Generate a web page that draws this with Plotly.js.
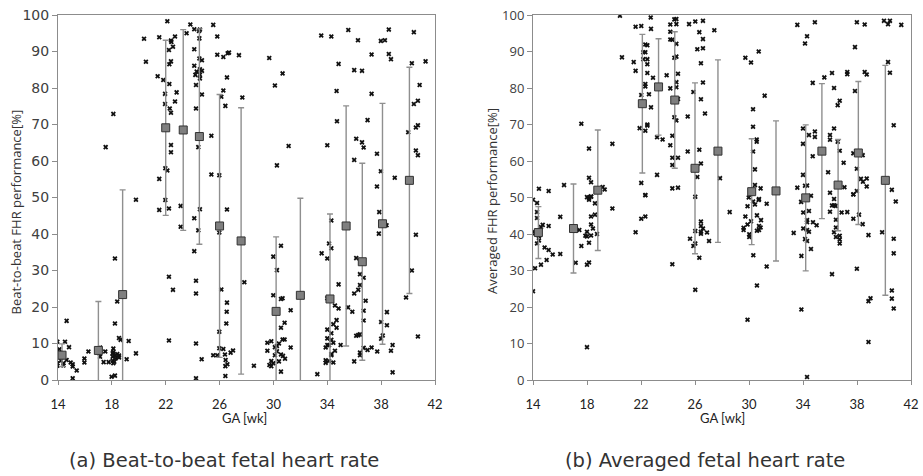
<!DOCTYPE html>
<html>
<head>
<meta charset="utf-8">
<script src="https://cdn.plot.ly/plotly-3.0.1.min.js"></script>
<style>html,body{margin:0;padding:0;background:#fff;}#chart{width:923px;height:476px;}</style>
</head>
<body>
<div id="chart"></div>
<script>
// ---- Panel (a): beat-to-beat FHR, individual measurements ----
const aX = [17.54,18.11,20.39,20.53,21.4,21.52,21.82,21.95,21.95,22.12,22.24,22.27,22.39,22.39,22.42,22.54,22.69,22.27,22.3,22.39,22.81,22.69,22.39,22.39,21.52,21.97,22.12,23.55,23.83,24.12,24.47,24.54,24.12,24.5,24.12,24.3,24.54,24.69,24.2,24.54,24.54,24.5,24.69,24.25,24.69,24.25,24.42,25.39,25.39,25.98,25.53,25.83,25.83,26.28,26.6,26.7,26.55,26.28,26.13,26.43,19.79,
13.95,14.1,13.95,13.95,14.22,14.4,14.4,14.52,14.64,14.82,14.64,14.94,15.09,15.09,15.39,15.09,15.96,15.96,16.26,17.12,17.12,17.39,17.51,17.76,17.98,18.06,18.06,18.06,18.11,18.11,18.23,18.11,18.18,18.23,18.23,18.23,18.28,18.4,18.4,18.53,18.53,18.53,18.65,19.1,19.25,19.79,21.52,21.97,22.24,22.24,22.24,22.54,23.11,23.11,24.12,24.12,24.25,24.25,24.25,24.25,24.54,24.42,24.67,25.53,25.83,25.98,25.98,25.98,26.13,26.28,26.4,26.45,26.53,26.5,26.55,26.43,26.58,26.43,26.55,
27.44,27.69,29.69,30.11,30.68,31.13,30.26,33.55,34.3,35.56,36.28,34.84,34.69,34.72,34.0,36.0,36.58,37.29,37.98,38.28,38.57,38.57,38.73,37.29,36.99,36.15,36.58,36.7,36.0,37.69,37.98,37.69,39.01,40.43,40.28,41.3,40.86,40.73,40.43,40.73,40.58,40.01,40.58,40.73,
27.0,26.82,27.84,28.55,29.99,30.26,29.99,30.56,30.56,30.68,31.28,30.83,30.56,30.68,30.83,29.55,29.84,30.41,30.26,30.11,29.55,30.26,30.11,30.56,30.71,30.86,31.28,29.84,30.41,29.99,29.7,29.84,30.56,33.26,33.58,34.0,34.13,34.3,34.3,34.84,34.0,34.57,34.84,34.0,34.3,34.69,34.69,34.45,34.0,34.3,34.0,34.13,33.88,34.45,34.57,34.99,34.3,34.3,33.88,33.88,34.13,34.45,35.54,35.86,36.0,36.15,36.43,36.7,36.43,36.3,36.0,36.85,36.7,36.7,36.15,36.3,36.43,36.7,36.43,36.43,36.99,37.29,37.71,37.86,37.83,38.4,38.43,38.43,38.0,38.0,38.12,38.85,38.73,38.85,39.85,40.28,40.58,40.73];
const aY = [63.8,72.9,93.5,87.2,83.2,93.9,82.2,78.4,75.6,98.3,90.4,86.5,87.3,93.0,92.6,91.3,94.1,81.1,74.4,73.2,78.8,76.3,64.4,62.4,55.1,58.0,57.4,95.0,97.4,96.1,95.6,96.0,90.6,93.6,86.1,84.5,85.1,84.7,83.6,83.6,82.6,88.1,87.6,80.8,78.2,74.4,63.8,66.9,56.3,56.1,97.3,94.1,89.1,88.5,89.5,89.7,82.9,79.3,77.6,75.1,49.4,
10.5,8.4,4.6,3.9,5.3,4.6,4.0,10.5,16.2,9.0,5.5,4.8,4.3,3.7,2.6,0.5,5.9,4.8,7.8,8.9,6.4,4.9,7.8,4.9,0.9,7.3,6.4,5.3,8.6,7.7,6.7,4.6,5.0,33.3,15.5,1.2,5.9,21.5,7.1,11.5,6.7,6.2,11.0,5.7,10.7,7.3,46.6,49.3,47.0,28.3,10.8,24.7,47.7,42.0,44.3,35.3,27.2,23.7,10.0,0.5,46.8,41.0,5.7,6.8,6.8,40.4,13.2,8.7,24.8,8.5,7.0,5.5,18.7,15.5,21.2,3.8,4.3,1.1,46.7,
89.0,77.4,88.2,80.7,84.0,64.1,58.8,94.4,94.1,95.9,93.1,86.6,79.2,70.9,64.3,84.9,84.7,89.2,92.9,93.1,96.0,89.3,87.9,78.4,71.2,66.1,65.1,63.7,60.3,62.0,57.2,53.0,55.4,95.3,86.8,87.3,80.8,76.5,75.6,69.8,69.2,67.9,62.9,61.6,
8.1,7.5,26.8,3.9,33.8,30.1,23.2,36.8,22.2,22.4,19.1,15.7,14.3,11.1,11.1,10.2,10.6,10.0,9.3,9.0,8.0,7.9,6.8,7.0,6.6,5.8,8.9,5.2,5.1,4.6,4.1,3.8,2.3,1.6,34.7,33.3,37.4,36.1,43.7,26.2,22.4,20.4,19.6,13.8,12.8,16.4,14.3,15.3,11.4,11.0,9.6,9.5,8.9,10.2,8.0,9.6,7.1,6.8,5.4,4.7,5.2,4.8,19.9,18.7,5.1,33.4,29.0,28.0,26.0,24.7,23.7,21.7,19.0,16.3,12.1,12.3,12.5,8.8,7.5,6.8,8.2,8.9,7.8,46.0,40.1,42.4,18.6,15.0,15.9,11.3,12.2,9.6,8.0,2.1,22.6,30.0,39.8,11.9];
// panel (a) group means and spread
const aMeanX = [14.3,17.0,18.8,22.0,23.3,24.5,26.0,27.6,30.2,32.0,34.2,35.4,36.6,38.1,40.1];
const aMeanY = [6.8,8.1,23.4,69.1,68.5,66.7,42.2,38.1,18.8,23.2,22.2,42.2,32.4,42.8,54.7];
const aErr   = [3.1,13.4,28.7,24.0,27.5,29.5,36.0,36.5,20.4,26.6,23.3,32.9,27.0,33.0,31.0];

// ---- Panel (b): averaged FHR, individual measurements ----
const bX = [14.44,15.16,16.3,17.58,18.15,18.15,18.3,18.0,18.3,19.16,19.31,19.88,20.44,20.59,21.46,21.6,21.6,22.02,22.72,22.74,22.32,22.47,22.17,22.32,22.17,22.47,22.47,22.47,22.32,22.32,22.02,22.59,22.89,22.74,22.47,22.47,21.9,22.32,22.02,22.32,23.19,23.19,23.6,23.9,24.17,24.17,24.17,24.32,24.47,24.62,24.62,24.62,24.47,24.62,24.74,24.17,24.62,24.62,24.74,24.32,24.17,24.47,24.62,24.32,24.74,24.32,24.32,24.74,25.46,25.46,25.56,
14.0,14.3,14.3,14.3,14.0,14.15,14.3,14.44,14.44,14.59,14.72,14.44,15.16,14.15,14.59,14.0,14.86,15.16,15.46,15.01,16.02,16.02,17.16,17.16,17.43,17.58,18.0,18.0,17.88,18.15,18.0,18.15,18.3,18.3,18.44,18.59,18.3,18.59,18.15,18.15,18.3,18.74,18.0,19.88,21.6,22.02,22.32,22.32,24.32,25.63,
26.02,26.59,26.32,26.59,26.17,26.59,27.43,26.44,26.59,25.88,26.44,26.74,26.32,26.44,26.17,27.85,26.02,29.73,30.15,30.72,31.16,30.3,30.3,30.57,30.57,30.3,30.44,30.44,30.86,33.58,34.88,34.3,34.15,34.72,35.58,36.15,37.28,37.28,38.57,38.72,37.99,38.57,40.0,40.3,40.44,41.28,37.85,40.3,40.44,36.3,36.72,36.57,37.85,40.72,34.0,34.44,34.88,34.88,36.3,36.0,36.0,36.57,34.0,34.72,36.72,37.01,35.86,37.73,38.42,37.99,38.29,38.44,38.72,38.72,34.0,34.15,34.3,33.58,34.59,37.07,36.3,36.0,37.99,37.73,40.58,29.98,30.74,
26.02,25.88,26.02,26.02,26.32,26.44,26.44,26.59,26.44,26.44,26.89,27.04,28.57,30.3,30.44,30.72,31.31,29.89,29.73,30.59,30.89,30.15,29.89,30.74,30.86,29.6,29.6,30.74,30.59,30.02,30.02,30.32,31.31,30.59,29.89,33.86,34.02,34.44,34.3,34.3,34.74,35.01,34.02,34.3,34.44,33.31,34.15,34.3,34.59,33.88,33.88,34.3,36.15,36.3,36.42,36.0,36.86,37.28,36.44,36.44,36.3,36.44,36.72,36.72,36.72,36.15,37.73,37.73,38.15,38.42,37.99,38.85,39.86,40.72,40.72,40.87,38.85,39.0,40.58,40.58,40.72,38.85];
const bY = [52.4,51.8,53.4,70.2,63.4,55.4,54.2,50.1,50.2,52.9,52.2,64.7,99.8,88.4,87.1,84.7,96.8,97.0,99.3,96.2,91.9,91.7,89.8,89.8,87.9,87.9,86.5,84.1,81.1,80.4,78.1,78.3,82.8,74.7,70.0,69.7,69.0,68.3,54.0,50.7,56.2,66.5,65.9,83.5,97.4,95.4,93.3,93.2,98.8,98.9,97.5,92.1,88.3,88.6,83.9,79.9,81.6,80.2,77.0,66.9,64.3,72.0,71.1,60.9,60.9,58.9,52.5,52.7,72.2,62.6,97.5,
49.4,48.5,46.0,44.4,40.6,40.2,37.4,38.2,39.3,41.9,42.5,40.6,42.2,30.6,31.6,24.3,36.3,35.6,34.4,32.9,34.5,44.7,32.1,40.9,41.1,36.7,40.6,39.3,39.5,37.6,31.6,32.2,39.6,42.6,41.5,45.3,44.8,48.4,49.9,49.4,50.3,40.0,9.0,47.0,40.5,44.2,44.8,50.6,31.7,38.7,
98.2,98.4,95.3,93.4,90.6,90.9,95.8,86.8,81.5,78.9,76.9,73.0,63.1,59.3,55.6,55.3,50.2,88.3,87.0,90.0,77.9,74.2,69.4,65.9,65.3,62.6,57.7,53.4,52.5,97.3,98.0,94.2,92.2,81.4,82.9,84.1,84.4,83.8,84.4,83.7,98.0,97.4,98.4,97.5,98.4,97.3,91.2,87.1,84.2,80.0,76.5,75.3,79.2,69.8,68.9,67.1,68.1,66.6,68.9,67.1,65.8,65.3,64.7,61.3,62.8,59.5,56.9,62.1,61.6,57.9,55.1,54.3,55.2,53.0,56.2,53.2,53.3,52.7,50.5,52.8,49.6,51.3,51.8,50.9,52.1,50.0,49.6,
40.8,36.7,37.4,24.7,33.5,43.4,42.2,41.5,40.6,40.1,40.4,38.1,46.0,48.9,48.1,49.3,48.3,47.6,44.8,45.1,43.8,43.5,42.6,42.2,41.8,41.7,41.1,41.1,40.9,39.9,39.2,34.2,31.1,25.9,16.5,48.8,45.9,46.3,43.8,43.2,43.2,42.4,41.5,41.1,40.6,40.3,38.6,38.1,35.9,34.0,19.3,0.8,47.8,47.9,47.7,46.1,45.9,46.0,43.9,41.8,40.5,39.2,39.5,38.5,37.4,29.0,50.8,44.2,45.3,42.7,30.5,39.7,40.5,38.7,34.7,48.9,21.6,22.4,24.5,22.3,19.6,10.4];
// panel (b) group means and spread
const bMeanX = [14.4,17.0,18.8,22.1,23.3,24.5,26.0,27.7,30.2,32.0,34.2,35.4,36.6,38.1,40.1];
const bMeanY = [40.4,41.5,52.0,75.7,80.3,76.7,58.0,62.7,51.6,51.8,49.9,62.7,53.4,62.2,54.7];
const bErr   = [7.1,12.2,16.5,19.0,13.2,18.7,23.4,25.0,14.5,19.2,20.0,18.5,12.5,19.6,31.5];

const xTicks = [14,18,22,26,30,34,38,42];
const xTitle = 'GA [wk]';
const aYTitle = 'Beat-to-beat FHR performance[%]';
const bYTitle = 'Averaged FHR performance[%]';
const aCaption = '(a) Beat-to-beat fetal heart rate';
const bCaption = '(b) Averaged fetal heart rate';

const ptMarker = {symbol:'x', size:4.5, color:'#111'};
const meanMarker = {symbol:'square', size:8, color:'#7f7f7f', line:{color:'#333', width:1}};
const errStyle = (arr) => ({type:'data', array:arr, visible:true, color:'#8f8f8f', thickness:1.4, width:3});

const traces = [
  {x:aX, y:aY, type:'scatter', mode:'markers', marker:ptMarker, xaxis:'x', yaxis:'y', hoverinfo:'x+y'},
  {x:aMeanX, y:aMeanY, type:'scatter', mode:'markers', marker:meanMarker, error_y:errStyle(aErr), xaxis:'x', yaxis:'y'},
  {x:bX, y:bY, type:'scatter', mode:'markers', marker:ptMarker, xaxis:'x2', yaxis:'y2', hoverinfo:'x+y'},
  {x:bMeanX, y:bMeanY, type:'scatter', mode:'markers', marker:meanMarker, error_y:errStyle(bErr), xaxis:'x2', yaxis:'y2'}
];

const W = 923, H = 476;
const px = v => v / W, py = v => (H - v) / H;

const xBase = {
  range:[14,42], tickmode:'array', tickvals:xTicks, ticktext:xTicks.map(String),
  ticks:'outside', ticklen:4, tickwidth:1, tickcolor:'#8c8c8c',
  showline:true, linecolor:'#8c8c8c', linewidth:1, mirror:true,
  showgrid:false, zeroline:false, fixedrange:true,
  tickfont:{family:'Lato, sans-serif', size:13, color:'#222'}, ticklabelstandoff:8
};
const yBase = {
  range:[0,100], tickmode:'linear', tick0:0, dtick:10,
  ticks:'outside', ticklen:5, tickwidth:1, tickcolor:'#8c8c8c',
  showline:true, linecolor:'#8c8c8c', linewidth:1, mirror:true,
  showgrid:false, zeroline:false, fixedrange:true
};

const layout = {
  width:W, height:H, margin:{l:0, r:0, t:0, b:0},
  paper_bgcolor:'#fff', plot_bgcolor:'#fff', showlegend:false,
  xaxis: Object.assign({}, xBase, {domain:[px(58), px(435)], anchor:'y'}),
  yaxis: Object.assign({}, yBase, {domain:[py(380), py(15)], anchor:'x',
          tickfont:{family:'DejaVu Sans, sans-serif', size:14, color:'#404040'}}),
  xaxis2: Object.assign({}, xBase, {domain:[px(533), px(911)], anchor:'y2'}),
  yaxis2: Object.assign({}, yBase, {domain:[py(380), py(15)], anchor:'x2',
          tickfont:{family:'Open Sans, sans-serif', size:13, color:'#404040'}}),
  annotations:[
    {text:aYTitle, xref:'paper', yref:'paper', x:px(15.5), y:py(212), textangle:-90, showarrow:false,
     xanchor:'center', yanchor:'middle', font:{family:'Open Sans, sans-serif', size:13, color:'#333'}},
    {text:bYTitle, xref:'paper', yref:'paper', x:px(491.5), y:py(201.5), textangle:-90, showarrow:false,
     xanchor:'center', yanchor:'middle', font:{family:'Open Sans, sans-serif', size:13, color:'#333'}},
    {text:xTitle, xref:'paper', yref:'paper', x:px(244), y:py(418), showarrow:false,
     xanchor:'center', yanchor:'middle', font:{family:'Lato, sans-serif', size:13, color:'#222'}},
    {text:xTitle, xref:'paper', yref:'paper', x:px(722), y:py(418), showarrow:false,
     xanchor:'center', yanchor:'middle', font:{family:'Lato, sans-serif', size:13, color:'#222'}},
    {text:aCaption, xref:'paper', yref:'paper', x:px(224), y:py(460), showarrow:false,
     xanchor:'center', yanchor:'middle', font:{family:'DejaVu Sans, sans-serif', size:19.5, color:'#333'}},
    {text:bCaption, xref:'paper', yref:'paper', x:px(705), y:py(460), showarrow:false,
     xanchor:'center', yanchor:'middle', font:{family:'DejaVu Sans, sans-serif', size:19.5, color:'#333'}}
  ]
};

Plotly.newPlot('chart', traces, layout, {displayModeBar:false, staticPlot:true});
</script>
</body>
</html>
